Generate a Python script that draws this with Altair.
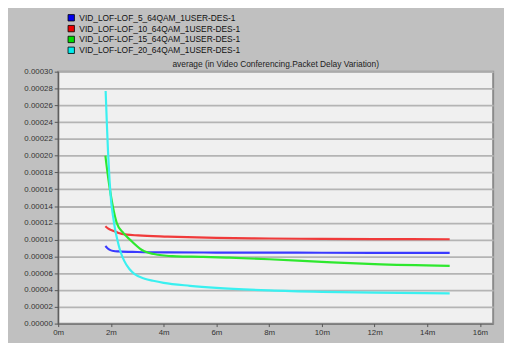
import altair as alt
import pandas as pd

series_names = [
    "VID_LOF-LOF_5_64QAM_1USER-DES-1",
    "VID_LOF-LOF_10_64QAM_1USER-DES-1",
    "VID_LOF-LOF_15_64QAM_1USER-DES-1",
    "VID_LOF-LOF_20_64QAM_1USER-DES-1",
]
series_colors = ["#3a3aff", "#f03a3a", "#2ee82e", "#3af0f0"]
legend_colors = ["#0000ee", "#ee0000", "#00dd00", "#00eeee"]
title_text = "average (in Video Conferencing.Packet Delay Variation)"

# time in minutes, values in microseconds
t5 = [1.79, 1.88, 1.98, 2.10, 2.29, 3.0, 4.15, 6.0, 8.0, 10.0, 12.0, 14.85]
v5 = [92.5, 89.5, 87.5, 86.5, 86.0, 85.3, 84.8, 84.6, 84.5, 84.4, 84.3, 84.2]

t10 = [1.79, 1.90, 2.05, 2.29, 2.60, 3.03, 4.15, 6.0, 8.0, 10.0, 12.0, 14.85]
v10 = [116.0, 113.0, 111.0, 108.0, 106.0, 105.0, 103.6, 102.0, 101.3, 100.9, 100.7, 100.5]

t15 = [1.79, 1.89, 1.96, 2.07, 2.22, 2.47, 2.72, 3.16, 3.78, 4.5, 5.5, 6.5, 8.0, 10.0, 12.0, 14.85]
v15 = [200.0, 175.0, 160.0, 140.0, 120.0, 108.0, 100.0, 88.0, 82.0, 80.0, 79.5, 78.5, 76.6, 73.5, 70.8, 68.8]

t20 = [1.80, 1.85, 1.89, 1.95, 2.01, 2.08, 2.16, 2.25, 2.35, 2.5, 2.7, 2.9, 3.28, 3.6, 4.0, 5.0, 6.0, 8.0, 10.0, 12.0, 14.85]
v20 = [277.0, 235.0, 205.0, 170.0, 145.0, 128.0, 112.0, 99.0, 87.0, 75.0, 65.0, 59.0, 53.5, 51.0, 48.5, 45.0, 42.5, 39.5, 37.8, 36.8, 36.0]

x_ticks = [0, 2, 4, 6, 8, 10, 12, 14, 16]
y_ticks = [round(i * 0.00002, 5) for i in range(16)]

rows = []
for name, ts, vs in zip(series_names, [t5, t10, t15, t20], [v5, v10, v15, v20]):
    for t, v in zip(ts, vs):
        rows.append({"series": name, "t": t, "v": v * 1e-6})
df = pd.DataFrame(rows)

# legend-only swatches: placed outside the x domain and clipped away
legend_df = pd.DataFrame({"entry": series_names, "t": [-5.0] * 4, "v": [0.0001] * 4})

FONT = "Liberation Sans"

x_enc = alt.X("t:Q",
              scale=alt.Scale(domain=[0, 16.5], nice=False, zero=False),
              axis=alt.Axis(values=x_ticks, labelExpr="datum.value + 'm'", title=None,
                            grid=False, tickSize=3, tickColor="#555555",
                            domainColor="#555555", labelFontSize=8, labelColor="#333333",
                            labelFont=FONT, labelPadding=2, labelFlush=False))
y_enc = alt.Y("v:Q",
              scale=alt.Scale(domain=[0, 0.0003], nice=False),
              axis=alt.Axis(values=y_ticks, format=".5f", title=None, grid=True,
                            gridColor="#b4b4b4", gridWidth=1.8, tickSize=4,
                            tickColor="#555555", domainColor="#555555",
                            labelFontSize=8, labelColor="#333333", labelFont=FONT,
                            labelPadding=2))

lines = alt.Chart(df).mark_line(strokeWidth=2.2, interpolate="monotone").encode(
    x=x_enc,
    y=y_enc,
    stroke=alt.Stroke("series:N",
                      scale=alt.Scale(domain=series_names, range=series_colors),
                      legend=None),
    order=alt.Order("t:Q"),
)

swatches = alt.Chart(legend_df).mark_point(
    filled=True, shape="square", size=42, clip=True, opacity=1,
    stroke="#000000", strokeWidth=0.8
).encode(
    x=x_enc,
    y=y_enc,
    fill=alt.Fill("entry:N",
                  scale=alt.Scale(domain=series_names, range=legend_colors),
                  legend=alt.Legend(title=None, orient="none", legendX=9, legendY=-59,
                                    symbolType="square", symbolSize=42,
                                    symbolStrokeColor="#000000", symbolStrokeWidth=0.8,
                                    labelFontSize=8.5, labelFont=FONT, labelColor="#111111",
                                    labelOffset=4, rowPadding=0, padding=0, labelLimit=400)),
)

title_layer = alt.Chart(pd.DataFrame({"label": [title_text]})).mark_text(
    font=FONT, fontSize=8.5, color="#222222", align="center", baseline="bottom"
).encode(
    text="label:N",
    x=alt.value(221),
    y=alt.value(-3),
)

chart = alt.layer(lines, swatches, title_layer).resolve_scale(
    fill="independent", stroke="independent"
).properties(
    width=442,
    height=256,
    autosize=alt.AutoSizeParams(type="none"),
    padding={"left": 51, "top": 62, "right": 11, "bottom": 17},
    background="#c0c0c0",
).configure_view(
    fill="#f0f0f0", stroke="#8a8a8a", strokeWidth=2
)

chart.save("out.html", embed_options={"renderer": "svg", "actions": False})
